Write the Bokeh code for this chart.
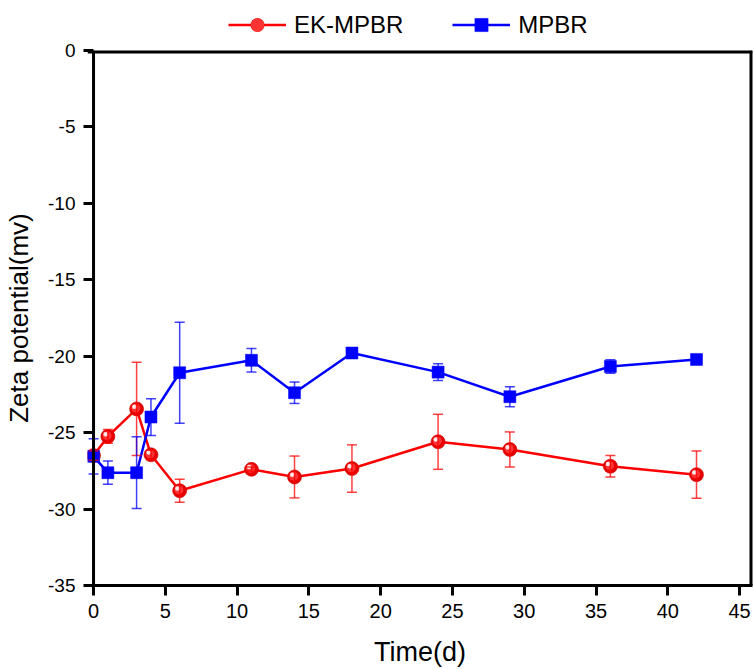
from bokeh.plotting import figure
from bokeh.layouts import column
from bokeh.models import (ColumnDataSource, Whisker, TeeHead, Legend, LegendItem,
                          Range1d, FixedTicker, Span, CustomJSTickFormatter)
from bokeh.embed import file_html
from bokeh.resources import INLINE

# ---------------- data ----------------
days = [0, 1, 3, 4, 6, 11, 14, 18, 24, 29, 36, 42]
zeta_ek = [-26.5, -25.25, -23.45, -26.45, -28.8, -27.4, -27.9, -27.35, -25.6, -26.1, -27.2, -27.75]
err_ek = [0.3, 0.45, 3.05, 0.3, 0.75, 0.15, 1.37, 1.55, 1.8, 1.15, 0.7, 1.55]
zeta_mp = [-26.55, -27.62, -27.62, -23.98, -21.08, -20.27, -22.39, -19.79, -21.04, -22.65, -20.67, -20.21]
err_mp = [1.15, 0.76, 2.35, 1.2, 3.3, 0.77, 0.7, 0.15, 0.55, 0.65, 0.44, 0.15]
x_ticks = [0, 5, 10, 15, 20, 25, 30, 35, 40, 45]
y_ticks = [-35, -30, -25, -20, -15, -10, -5, 0]
series_names = ["EK-MPBR", "MPBR"]

FONT = "Liberation Sans"
RED = "#ff0000"
BLUE = "#0000ff"
W = 754
LEG_H = 38
H = 669 - LEG_H
BL, BR, BT, BB = 87, 2, 12, 84
X0, X1 = -0.42, 45.9     # small pad left of x=0 so the first markers are not clipped
Y0, Y1 = -35, 0
fw, fh = W - BL - BR, H - BT - BB
px_x = (X1 - X0) / fw
px_y = (Y1 - Y0) / fh

p = figure(width=W, height=H, output_backend="svg", toolbar_location=None,
           x_range=Range1d(X0, X1), y_range=Range1d(Y0, Y1),
           min_border_left=BL, min_border_right=BR, min_border_top=BT, min_border_bottom=BB)
p.grid.visible = False
p.outline_line_color = None
p.background_fill_color = "white"
p.border_fill_color = "white"

fmt = CustomJSTickFormatter(code="return String(tick);")
for ax in (p.xaxis[0], p.yaxis[0]):
    ax.major_tick_line_width = 3
    ax.minor_tick_line_color = None
    ax.major_label_text_font = FONT
    ax.axis_label_text_font = FONT
    ax.axis_label_text_font_style = "normal"
    ax.major_label_text_color = "black"
    ax.axis_label_text_color = "black"
    ax.formatter = fmt

p.xaxis.axis_line_width = 3
p.xaxis.major_tick_out = 10
p.xaxis.major_tick_in = 0
p.yaxis.axis_line_color = None
p.yaxis.major_tick_out = 4
p.yaxis.major_tick_in = 6

p.xaxis.ticker = FixedTicker(ticks=x_ticks)
p.yaxis.ticker = FixedTicker(ticks=y_ticks)
p.xaxis.major_label_text_font_size = "20px"
p.yaxis.major_label_text_font_size = "19px"
p.xaxis.major_label_standoff = 8
p.yaxis.major_label_standoff = 8
p.xaxis.axis_label = "Time(d)"
p.yaxis.axis_label = "Zeta potential(mv)"
p.xaxis.axis_label_text_font_size = "27px"
p.yaxis.axis_label_text_font_size = "26px"
p.xaxis.axis_label_standoff = 16
p.yaxis.axis_label_standoff = 11

# frame lines: left axis at x = 0, top and right edges
p.add_layout(Span(location=0, dimension="height", line_color="black", line_width=3))
p.add_layout(Span(location=Y1, dimension="width", line_color="black", line_width=6))
p.add_layout(Span(location=X1, dimension="height", line_color="black", line_width=6))

src_ek = ColumnDataSource(dict(
    x=days, y=zeta_ek,
    lo=[v - e for v, e in zip(zeta_ek, err_ek)],
    hi=[v + e for v, e in zip(zeta_ek, err_ek)],
    xm=[d - 0.8 * px_x for d in days], ym=[v + 0.8 * px_y for v in zeta_ek],
    xh=[d - 2.3 * px_x for d in days], yh=[v + 2.3 * px_y for v in zeta_ek],
))
src_mp = ColumnDataSource(dict(
    x=days, y=zeta_mp,
    lo=[v - e for v, e in zip(zeta_mp, err_mp)],
    hi=[v + e for v, e in zip(zeta_mp, err_mp)],
))

def whisk(src, color):
    w = Whisker(base="x", lower="lo", upper="hi", source=src,
                line_color=color, line_width=1.5, line_alpha=0.75,
                upper_head=TeeHead(size=10, line_color=color, line_width=1.5, line_alpha=0.75),
                lower_head=TeeHead(size=10, line_color=color, line_width=1.5, line_alpha=0.75),
                level="glyph")
    p.add_layout(w)

EK_STYLE = dict(marker="circle", size=14, fill_color="#e60000", line_color="#cc0000", line_width=0.6)
EK_MID = dict(marker="circle", size=9, fill_color="#ff3333", line_color=None)
MP_STYLE = dict(marker="square", size=12, fill_color=BLUE, line_color=BLUE, line_width=0.5)

whisk(src_ek, RED)
p.line("x", "y", source=src_ek, line_color=RED, line_width=2.5)
p.scatter("x", "y", source=src_ek, **EK_STYLE)
p.scatter("xm", "ym", source=src_ek, **EK_MID)
p.scatter("xh", "yh", source=src_ek, marker="circle", size=4.5,
          fill_color="#ffe6e6", line_color=None)

whisk(src_mp, BLUE)
p.line("x", "y", source=src_mp, line_color=BLUE, line_width=2.5)
p.scatter("x", "y", source=src_mp, **MP_STYLE)

# ---------------- legend strip above the plot ----------------
# its ranges lie away from the data, so the renderers only serve the legend
lg = figure(width=W, height=LEG_H, output_backend="svg", toolbar_location=None,
            x_range=Range1d(X0, X1), y_range=Range1d(1, 2),
            min_border_left=BL, min_border_right=BR, min_border_top=0, min_border_bottom=0)
lg.axis.visible = False
lg.grid.visible = False
lg.outline_line_color = None
ll_ek = lg.line("x", "y", source=src_ek, line_color=RED, line_width=2.5)
lm_ek = lg.scatter("x", "y", source=src_ek, **EK_STYLE)
lm_ek2 = lg.scatter("x", "y", source=src_ek, **dict(EK_MID, size=8))
ll_mp = lg.line("x", "y", source=src_mp, line_color=BLUE, line_width=2.5)
lm_mp = lg.scatter("x", "y", source=src_mp, **MP_STYLE)

legend = Legend(items=[LegendItem(label=series_names[0], renderers=[ll_ek, lm_ek, lm_ek2]),
                       LegendItem(label=series_names[1], renderers=[ll_mp, lm_mp])],
                location=(141, -3), orientation="horizontal",
                glyph_width=58, glyph_height=33, label_standoff=8, spacing=49,
                padding=0, margin=0, border_line_color=None, background_fill_alpha=0,
                label_text_font=FONT, label_text_font_size="24px", label_text_color="black")
lg.add_layout(legend, "center")

layout = column(lg, p, spacing=0)
open("out.html", "w").write(file_html(layout, INLINE))
